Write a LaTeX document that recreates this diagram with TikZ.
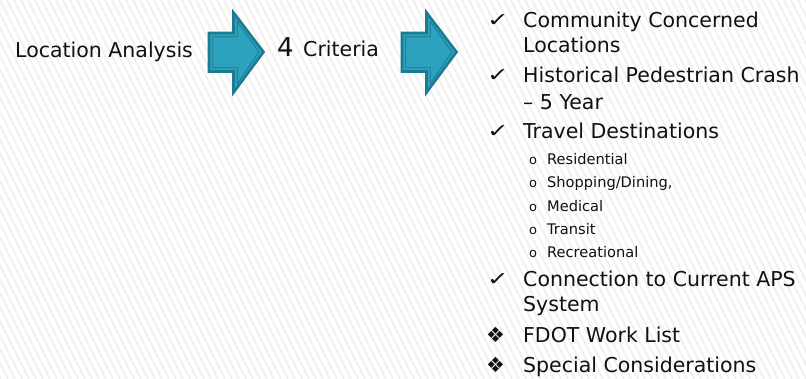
\documentclass[tikz,border=0pt]{standalone}
\usepackage{fontspec}
\setmainfont{DejaVu Sans}
\definecolor{arrowfill}{HTML}{2DA2BE}
\definecolor{arrowedge}{HTML}{1D7B91}
\definecolor{arrowinner}{HTML}{1F7489}
\definecolor{stripe}{HTML}{EFEFEF}
\definecolor{ink}{HTML}{111111}
\tikzset{
  bigtext/.style={anchor=base west, inner sep=0pt, text=ink, font=\fontsize{20.5}{24}\selectfont},
  subtext/.style={anchor=base west, inner sep=0pt, text=ink, font=\fontsize{14.6}{17}\selectfont},
  checkmark/.style={anchor=base west, inner sep=0pt, text=ink, font=\fontsize{20}{24}\selectfont},
  diamondmark/.style={anchor=base west, inner sep=0pt, text=ink, font=\fontsize{21}{24}\selectfont},
  subbullet/.style={anchor=base west, inner sep=0pt, text=ink, font=\fontsize{13}{15}\selectfont},
  blockarrow/.style={fill=arrowfill, draw=arrowedge, line width=2.6pt, line join=miter},
  blockinner/.style={draw=arrowinner, line width=0.7pt, line join=miter}
}
% a wide, flat tick
\newcommand{\flattick}{\scalebox{1.3}[0.95]{✓}}
% one block arrow; #1 = left x of the body, drawn with an inset outline
\newcommand{\blockarrowat}[1]{%
  \begin{scope}[shift={(#1,0)}]
    \draw[blockarrow] (0,33) -- (24.5,33) -- (24.5,12.5) -- (54.5,52) -- (24.5,92.5)
      -- (24.5,71.5) -- (0,71.5) -- cycle;
    \draw[blockinner] (3.8,36.8) -- (28.3,36.8) -- (28.3,21.5) -- (50,52) -- (28.3,83.5)
      -- (28.3,67.7) -- (3.8,67.7) -- cycle;
  \end{scope}}
\begin{document}
\begin{tikzpicture}[x=1pt, y=-1pt]
  % page and faint diagonal hatching
  \useasboundingbox (0,0) rectangle (806,379);
  \fill[white] (0,0) rectangle (806,379);
  \begin{scope}
    \clip (0,0) rectangle (806,379);
    \foreach \i in {-210,-203,...,810}
      \draw[stripe, line width=1.6pt] (\i,0) -- (\i+190,379);
  \end{scope}

  % flow along the top row
  \node[bigtext] (loc) at (15,58) {Location Analysis};
  \blockarrowat{209}
  \node[anchor=base west, inner sep=0pt, text=ink, font=\fontsize{26}{30}\selectfont] (four) at (277,57) {4};
  \node[bigtext] (crit) at (303,57) {Criteria};
  \blockarrowat{402}

  % criteria list
  \node[checkmark] (c1) at (487,26.5) {\flattick};
  \node[bigtext] (t1a) at (523,28) {Community Concerned};
  \node[bigtext] (t1b) at (523,53) {Locations};
  \node[checkmark] (c2) at (487,81.5) {\flattick};
  \node[bigtext] (t2a) at (523,83) {Historical Pedestrian Crash};
  \node[bigtext] (t2b) at (523,110) {– 5 Year};
  \node[checkmark] (c3) at (487,137.5) {\flattick};
  \node[bigtext] (t3) at (523,139) {Travel Destinations};

  \foreach \name/\txt/\yy in {s1/{Residential}/165, s2/{Shopping/Dining,}/188,
      s3/{Medical}/212, s4/{Transit}/235, s5/{Recreational}/258} {
    \node[subbullet] (o\name) at (529,\yy) {o};
    \node[subtext] (\name) at (547,\yy) {\txt};
  }

  \node[checkmark] (c4) at (487,285.5) {\flattick};
  \node[bigtext] (t4a) at (523,287) {Connection to Current APS};
  \node[bigtext] (t4b) at (523,312) {System};
  \node[diamondmark] (d1) at (486,343) {❖};
  \node[bigtext] (t5) at (523,342) {FDOT Work List};
  \node[diamondmark] (d2) at (486,373) {❖};
  \node[bigtext] (t6) at (523,372) {Special Considerations};
\end{tikzpicture}
\end{document}
